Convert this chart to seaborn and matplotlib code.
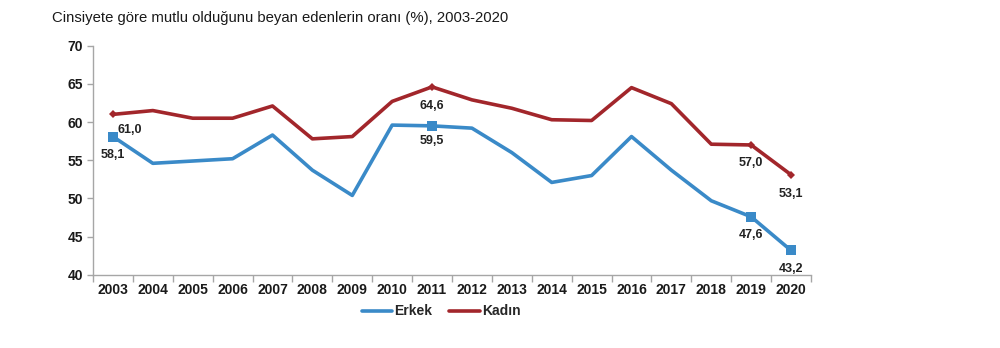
import matplotlib
matplotlib.use("Agg")
import matplotlib.pyplot as plt
import seaborn as sns
import pandas as pd
from matplotlib.ticker import FixedLocator
from matplotlib.lines import Line2D

years = list(range(2003, 2021))
erkek = [58.1, 54.6, 54.9, 55.2, 58.3, 53.7, 50.4, 59.6, 59.5, 59.2, 56.0, 52.1, 53.0, 58.1, 53.7, 49.7, 47.6, 43.2]
kadin = [61.0, 61.5, 60.5, 60.5, 62.1, 57.8, 58.1, 62.7, 64.6, 62.9, 61.8, 60.3, 60.2, 64.5, 62.4, 57.1, 57.0, 53.1]
series_names = ["Erkek", "Kadın"]
title = "Cinsiyete göre mutlu olduğunu beyan edenlerin oranı (%), 2003-2020"
labeled_years = [2003, 2011, 2019, 2020]
yticks = [40, 45, 50, 55, 60, 65, 70]

BLUE = "#3a8ac8"
RED = "#a2262b"
AXC = "#a6a6a6"

sns.set_theme(style="white")
plt.rcParams["font.family"] = ["Liberation Sans", "DejaVu Sans"]

df = pd.DataFrame({
    "Yıl": years * 2,
    "Oran": erkek + kadin,
    "Cinsiyet": [series_names[0]] * len(years) + [series_names[1]] * len(years),
})

fig = plt.figure(figsize=(10, 3.48), dpi=100)
ax = fig.add_axes([0.093, 0.21, 0.718, 0.659])

mark_idx = [years.index(y) for y in labeled_years]
sns.lineplot(data=df[df.Cinsiyet == series_names[0]], x="Yıl", y="Oran", color=BLUE,
             lw=2.6, marker="s", markersize=6.5, markevery=mark_idx, markeredgewidth=0,
             ax=ax, legend=False)
sns.lineplot(data=df[df.Cinsiyet == series_names[1]], x="Yıl", y="Oran", color=RED,
             lw=2.6, marker="D", markersize=4, markevery=mark_idx, markeredgewidth=0,
             ax=ax, legend=False)

ax.set_xlim(years[0] - 0.5, years[-1] + 0.5)
ax.set_ylim(40, 70)
ax.set_xlabel("")
ax.set_ylabel("")
ax.set_xticks(years)
ax.set_xticklabels([str(y) for y in years], fontsize=10, fontweight="bold", color="#1a1a1a")
ax.xaxis.set_minor_locator(FixedLocator([y - 0.5 for y in years] + [years[-1] + 0.5]))
ax.tick_params(axis="x", which="major", length=0, pad=6)
ax.tick_params(axis="x", which="minor", length=5, width=1, color=AXC, direction="out", bottom=True)
ax.set_yticks(yticks)
ax.set_yticklabels([str(v) for v in yticks], fontsize=10, fontweight="bold", color="#1a1a1a")
ax.tick_params(axis="y", length=4, width=1, color=AXC, direction="out", left=True, pad=3)
for s in ["top", "right"]:
    ax.spines[s].set_visible(False)
for s in ["left", "bottom"]:
    ax.spines[s].set_color(AXC)
    ax.spines[s].set_linewidth(1)

def fmt(v):
    return f"{v:.1f}".replace(".", ",")

# data labels
offsets_e = {2003: (0, -13), 2011: (0, -11), 2019: (0, -13), 2020: (0, -13)}
offsets_k = {2003: (12, -11), 2011: (0, -14), 2019: (0, -13), 2020: (0, -14)}
for y in labeled_years:
    i = years.index(y)
    ax.annotate(fmt(erkek[i]), (y, erkek[i]), xytext=offsets_e[y], textcoords="offset points",
                ha="center", va="center", fontsize=9, fontweight="bold", color="#222222")
    ax.annotate(fmt(kadin[i]), (y, kadin[i]), xytext=offsets_k[y], textcoords="offset points",
                ha="center", va="center", fontsize=9, fontweight="bold", color="#222222")

hl = [Line2D([0], [0], color=BLUE, lw=2.6), Line2D([0], [0], color=RED, lw=2.6)]
fig.legend(hl, series_names, loc="center", bbox_to_anchor=(0.441, 0.105), ncol=2,
           frameon=False, handlelength=2.2, columnspacing=1.2, handletextpad=0.15,
           prop={"weight": "bold", "size": 10})

fig.text(0.052, 0.948, title, fontsize=10.7, ha="left", va="center", color="#1a1a1a")

fig.savefig("out.png", dpi=100, facecolor="white")
